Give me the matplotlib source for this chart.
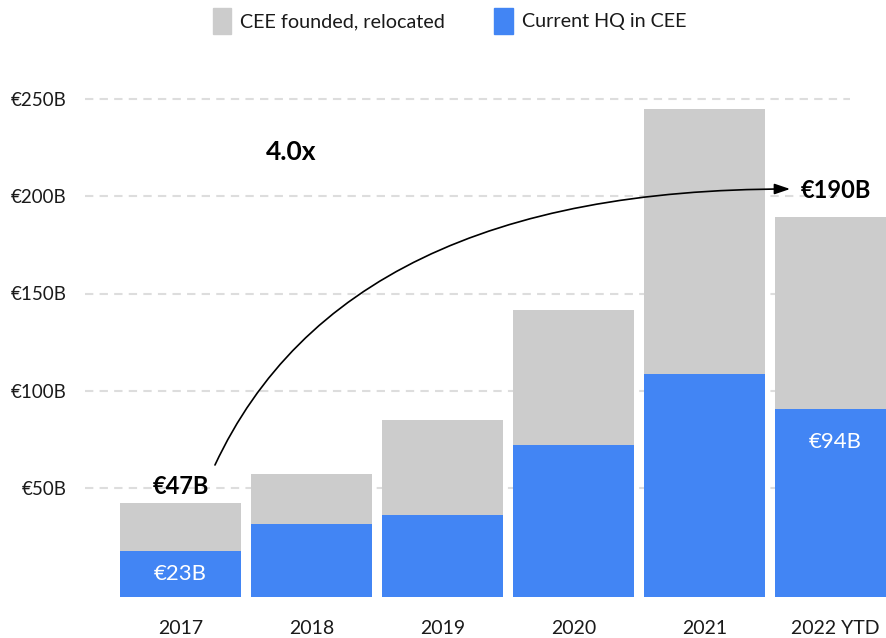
import matplotlib
matplotlib.use("Agg")
import matplotlib.pyplot as plt
from matplotlib.patches import Patch

plt.rcParams['font.family'] = ['Lato', 'DejaVu Sans']

years = ["2017", "2018", "2019", "2020", "2021", "2022 YTD"]
total = [47, 61.5, 88.5, 143.5, 244, 190]
current_hq = [23, 36.5, 41, 76, 111.5, 94]
relocated = [t - c for t, c in zip(total, current_hq)]
y_ticks = [50, 100, 150, 200, 250]
y_tick_labels = ["€50B", "€100B", "€150B", "€200B", "€250B"]

GRAY = "#cccccc"
BLUE = "#4285f4"
TXT = "#1a1a1a"

W, H = 886, 638
fig = plt.figure(figsize=(W / 100, H / 100), dpi=100)

left_px, right_px, bottom_px, top_px = 85, 886, 597, 90
rect = [left_px / W, (H - bottom_px) / H, (right_px - left_px) / W, (bottom_px - top_px) / H]

# grid / y-label axes
axg = fig.add_axes(rect, zorder=0)
axg.set_ylim((585.4 - bottom_px) / 1.946, (585.4 - top_px) / 1.946)
axg.set_xlim(0, 1)
axg.set_yticks(y_ticks)
axg.set_yticklabels(y_tick_labels)
axg.set_xticks([])
axg.tick_params(axis='y', length=0, pad=13, labelsize=13.5, labelcolor=TXT)
for y in y_ticks:
    axg.axhline(y, xmin=0, xmax=0.955, color="#dddddd", lw=1.5, dashes=(4, 3))
for s in axg.spines.values():
    s.set_visible(False)

# bars axes
ax = fig.add_axes(rect, zorder=1)
ax.patch.set_alpha(0)
x = list(range(len(years)))
ax.bar(x, current_hq, width=0.924, color=BLUE, label="Current HQ in CEE")
ax.bar(x, relocated, bottom=current_hq, width=0.924, color=GRAY, label="CEE founded, relocated")
ax.set_xlim(-0.729, 5.385)
ax.set_ylim(0, (bottom_px - top_px) / 2.0)
ax.set_xticks(x)
ax.set_xticklabels(years)
ax.set_yticks([])
ax.tick_params(axis='x', length=0, pad=16.5, labelsize=14, labelcolor=TXT)
for s in ax.spines.values():
    s.set_visible(False)

# value labels
ax.annotate(f"€{total[0]:g}B", (0, total[0]), xytext=(0, 12.2), textcoords='offset points',
            ha='center', va='center', fontsize=17, fontweight='bold', color='black')
ax.annotate(f"€{total[5]:g}B", (5, total[5]), xytext=(0, 19.4), textcoords='offset points',
            ha='center', va='center', fontsize=17, fontweight='bold', color='black')
ax.annotate(f"€{current_hq[0]:g}B", (0, current_hq[0]), xytext=(0, -16.6), textcoords='offset points',
            ha='center', va='center', fontsize=16, color='white')
ax.annotate(f"€{current_hq[5]:g}B", (5, current_hq[5]), xytext=(0, -23.8), textcoords='offset points',
            ha='center', va='center', fontsize=16, color='white')
ax.text(0.844, 222.5, "4.0x", ha='center', va='center', fontsize=19, fontweight='bold', color='black')

# growth arrow
ax.annotate("", xy=(4.653, 204), xytext=(0.263, 66),
            arrowprops=dict(arrowstyle="-|>,head_length=0.94,head_width=0.32",
                            connectionstyle="angle3,angleA=65,angleB=0",
                            color='black', lw=1.2, shrinkA=0, shrinkB=0))

# legend
handles = [Patch(color=GRAY, label="CEE founded, relocated"), Patch(color=BLUE, label="Current HQ in CEE")]
fig.legend(handles=handles, loc='center', bbox_to_anchor=(449.5 / W, 1 - 21 / H), ncol=2,
           frameon=False, fontsize=14.2, handlelength=0.95, handleheight=1.65,
           handletextpad=0.45, columnspacing=2.5, labelcolor=TXT)

fig.savefig("out.png", dpi=100)
